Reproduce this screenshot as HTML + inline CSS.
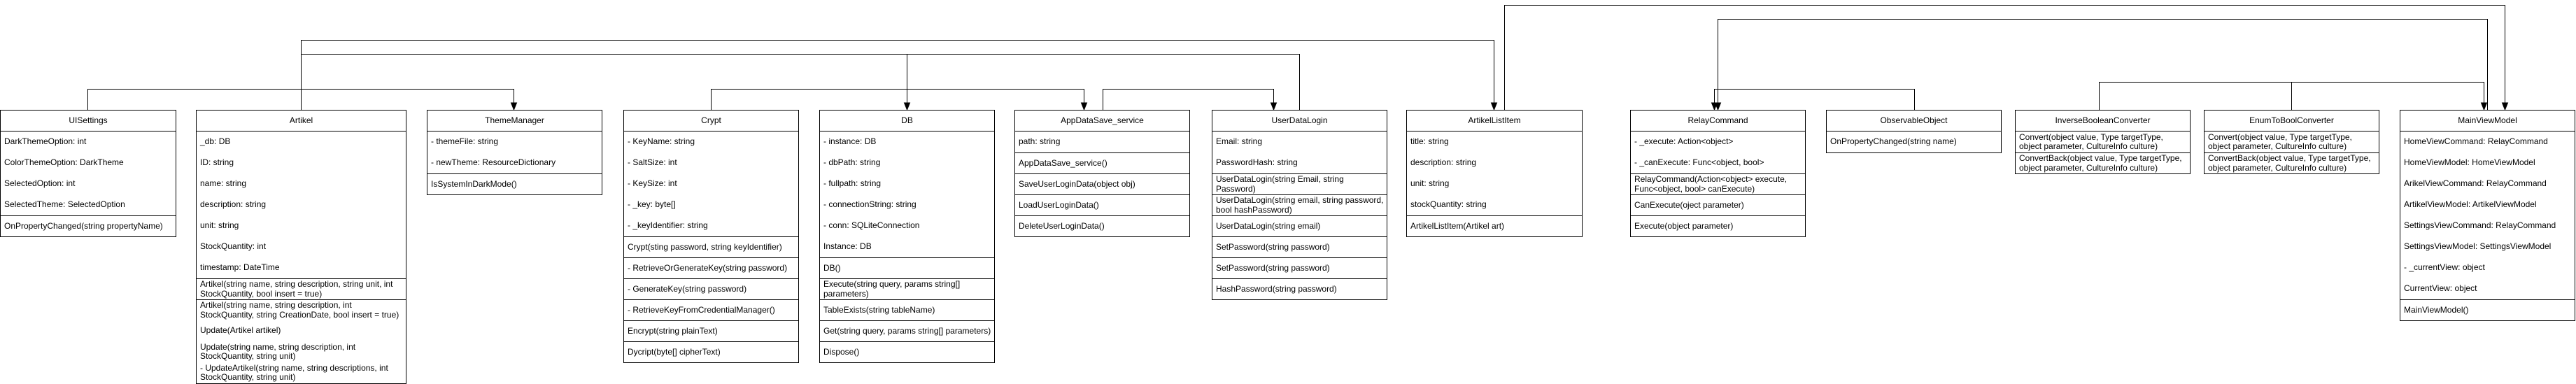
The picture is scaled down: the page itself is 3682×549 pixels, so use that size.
<!DOCTYPE html>
<html><head><meta charset="utf-8"><style>
html,body{margin:0;padding:0;background:#fff;}
body{width:3682px;height:548px;position:relative;overflow:hidden;font-family:"Liberation Sans",Arial,sans-serif;font-size:12px;color:#000;}
.b{position:absolute;top:157px;border:1px solid #000;box-sizing:border-box;background:#fff;}
.h{height:30px;line-height:29px;text-align:center;border-bottom:1px solid #000;box-sizing:border-box;}
.r{height:30px;display:flex;align-items:center;padding-left:5px;line-height:13.5px;white-space:nowrap;box-sizing:border-box;overflow:hidden;}
.d{border-top:1px solid #000;}
svg{position:absolute;left:0;top:0;}
</style></head><body>
<svg width="3682" height="548" viewBox="0 0 3682 548">
<defs><marker id="a" markerWidth="8" markerHeight="10" refX="4" refY="10" orient="auto-start-reverse" markerUnits="userSpaceOnUse"><path d="M0,0 L8,0 L4,10 z" fill="#000" transform="rotate(0)"/></marker></defs>
<g fill="none" stroke="#000" stroke-width="1">
<polyline points="430.5,157 430.5,57.5 2135.5,57.5 2135.5,147"/>
<path d="M2131.5,147 L2139.5,147 L2135.5,157 z" fill="#000"/>
<polyline points="430.5,77.5 1857.5,77.5 1857.5,157"/>
<line x1="1296.5" y1="77.5" x2="1296.5" y2="147"/>
<path d="M1292.5,147 L1300.5,147 L1296.5,157 z" fill="#000"/>
<polyline points="125.5,157 125.5,127.5 734.5,127.5 734.5,147"/>
<path d="M730.5,147 L738.5,147 L734.5,157 z" fill="#000"/>
<polyline points="1016.5,157 1016.5,127.5 1549.5,127.5 1549.5,147"/>
<path d="M1545.5,147 L1553.5,147 L1549.5,157 z" fill="#000"/>
<polyline points="1576.5,157 1576.5,127.5 1820.5,127.5 1820.5,147"/>
<path d="M1816.5,147 L1824.5,147 L1820.5,157 z" fill="#000"/>
<polyline points="2150.5,157 2150.5,7.5 3580.5,7.5 3580.5,147"/>
<path d="M3576.5,147 L3584.5,147 L3580.5,157 z" fill="#000"/>
<polyline points="3555.5,157 3555.5,27.5 2455.5,27.5 2455.5,147"/>
<path d="M2451.5,147 L2459.5,147 L2455.5,157 z" fill="#000"/>
<polyline points="2736.5,157 2736.5,127.5 2450.5,127.5 2450.5,147"/>
<path d="M2446.5,147 L2454.5,147 L2450.5,157 z" fill="#000"/>
<polyline points="3000.5,157 3000.5,117.5 3550.5,117.5 3550.5,147"/>
<line x1="3275.5" y1="117.5" x2="3275.5" y2="157"/>
<path d="M3546.5,147 L3554.5,147 L3550.5,157 z" fill="#000"/>
</g>
</svg>

<div class="b" style="left:0;width:252px;">
<div class="h">UISettings</div>
<div class="r">DarkThemeOption: int</div>
<div class="r">ColorThemeOption: DarkTheme</div>
<div class="r">SelectedOption: int</div>
<div class="r">SelectedTheme: SelectedOption</div>
<div class="r d">OnPropertyChanged(string propertyName)</div>
</div>

<div class="b" style="left:280px;width:301px;">
<div class="h">Artikel</div>
<div class="r">_db: DB</div>
<div class="r">ID: string</div>
<div class="r">name: string</div>
<div class="r">description: string</div>
<div class="r">unit: string</div>
<div class="r">StockQuantity: int</div>
<div class="r">timestamp: DateTime</div>
<div class="r d">Artikel(string name, string description, string unit, int<br>StockQuantity, bool insert = true)</div>
<div class="r d">Artikel(string name, string description, int<br>StockQuantity, string CreationDate, bool insert = true)</div>
<div class="r">Update(Artikel artikel)</div>
<div class="r">Update(string name, string description, int<br>StockQuantity, string unit)</div>
<div class="r">- UpdateArtikel(string name, string descriptions, int<br>StockQuantity, string unit)</div>
</div>

<div class="b" style="left:610px;width:251px;">
<div class="h">ThemeManager</div>
<div class="r">- themeFile: string</div>
<div class="r">- newTheme: ResourceDictionary</div>
<div class="r d">IsSystemInDarkMode()</div>
</div>

<div class="b" style="left:891px;width:251px;">
<div class="h">Crypt</div>
<div class="r">- KeyName: string</div>
<div class="r">- SaltSize: int</div>
<div class="r">- KeySize: int</div>
<div class="r">- _key: byte[]</div>
<div class="r">- _keyIdentifier: string</div>
<div class="r d">Crypt(sting password, string keyIdentifier)</div>
<div class="r d">- RetrieveOrGenerateKey(string password)</div>
<div class="r d">- GenerateKey(string password)</div>
<div class="r d">- RetrieveKeyFromCredentialManager()</div>
<div class="r d">Encrypt(string plainText)</div>
<div class="r d">Dycript(byte[] cipherText)</div>
</div>

<div class="b" style="left:1171px;width:251px;">
<div class="h">DB</div>
<div class="r">- instance: DB</div>
<div class="r">- dbPath: string</div>
<div class="r">- fullpath: string</div>
<div class="r">- connectionString: string</div>
<div class="r">- conn: SQLiteConnection</div>
<div class="r">Instance: DB</div>
<div class="r d">DB()</div>
<div class="r d">Execute(string query, params string[]<br>parameters)</div>
<div class="r d">TableExists(string tableName)</div>
<div class="r d">Get(string query, params string[] parameters)</div>
<div class="r d">Dispose()</div>
</div>

<div class="b" style="left:1450px;width:251px;">
<div class="h">AppDataSave_service</div>
<div class="r">path: string</div>
<div class="r d">AppDataSave_service()</div>
<div class="r d">SaveUserLoginData(object obj)</div>
<div class="r d">LoadUserLoginData()</div>
<div class="r d">DeleteUserLoginData()</div>
</div>

<div class="b" style="left:1732px;width:251px;">
<div class="h">UserDataLogin</div>
<div class="r">Email: string</div>
<div class="r">PasswordHash: string</div>
<div class="r d">UserDataLogin(string Email, string<br>Password)</div>
<div class="r d">UserDataLogin(string email, string password,<br>bool hashPassword)</div>
<div class="r d">UserDataLogin(string email)</div>
<div class="r d">SetPassword(string password)</div>
<div class="r d">SetPassword(string password)</div>
<div class="r d">HashPassword(string password)</div>
</div>

<div class="b" style="left:2010px;width:252px;">
<div class="h">ArtikelListItem</div>
<div class="r">title: string</div>
<div class="r">description: string</div>
<div class="r">unit: string</div>
<div class="r">stockQuantity: string</div>
<div class="r d">ArtikelListItem(Artikel art)</div>
</div>

<div class="b" style="left:2330px;width:251px;">
<div class="h">RelayCommand</div>
<div class="r">- _execute: Action&lt;object&gt;</div>
<div class="r">- _canExecute: Func&lt;object, bool&gt;</div>
<div class="r d">RelayCommand(Action&lt;object&gt; execute,<br>Func&lt;object, bool&gt; canExecute)</div>
<div class="r d">CanExecute(oject parameter)</div>
<div class="r d">Execute(object parameter)</div>
</div>

<div class="b" style="left:2610px;width:251px;">
<div class="h">ObservableObject</div>
<div class="r">OnPropertyChanged(string name)</div>
</div>

<div class="b" style="left:2880px;width:251px;">
<div class="h">InverseBooleanConverter</div>
<div class="r">Convert(object value, Type targetType,<br>object parameter, CultureInfo culture)</div>
<div class="r d">ConvertBack(object value, Type targetType,<br>object parameter, CultureInfo culture)</div>
</div>

<div class="b" style="left:3150px;width:251px;">
<div class="h">EnumToBoolConverter</div>
<div class="r">Convert(object value, Type targetType,<br>object parameter, CultureInfo culture)</div>
<div class="r d">ConvertBack(object value, Type targetType,<br>object parameter, CultureInfo culture)</div>
</div>

<div class="b" style="left:3430px;width:251px;">
<div class="h">MainViewModel</div>
<div class="r">HomeViewCommand: RelayCommand</div>
<div class="r">HomeViewModel: HomeViewModel</div>
<div class="r">ArikelViewCommand: RelayCommand</div>
<div class="r">ArtikelViewModel: ArtikelViewModel</div>
<div class="r">SettingsViewCommand: RelayCommand</div>
<div class="r">SettingsViewModel: SettingsViewModel</div>
<div class="r">- _currentView: object</div>
<div class="r">CurrentView: object</div>
<div class="r d">MainViewModel()</div>
</div>
</body></html>
